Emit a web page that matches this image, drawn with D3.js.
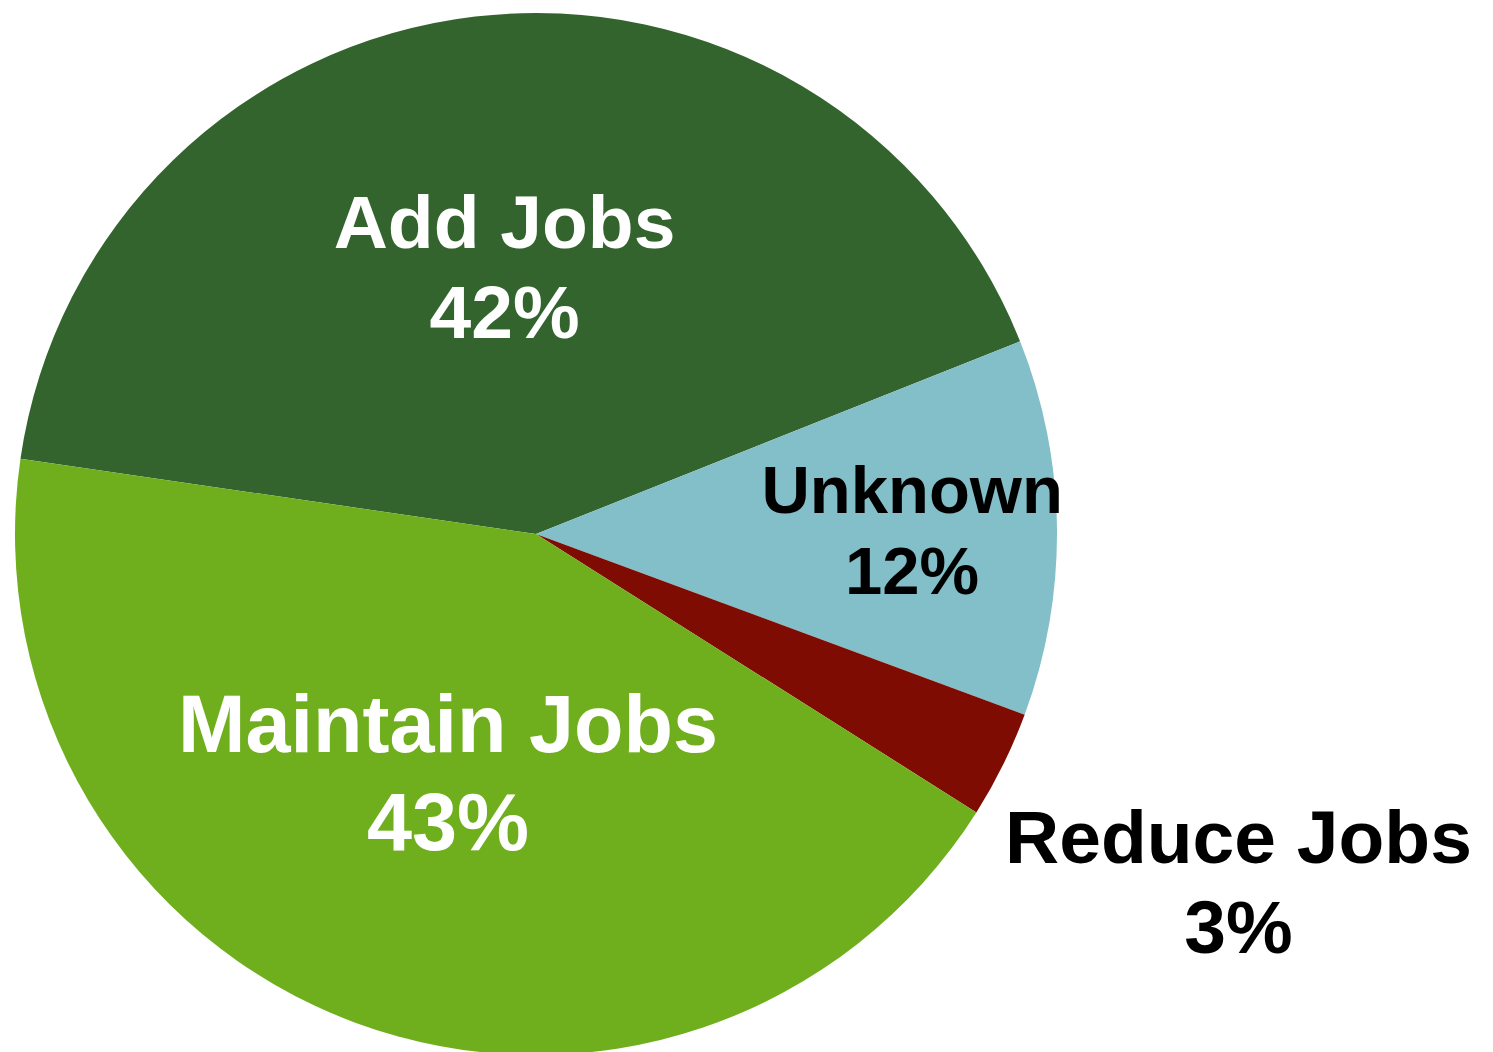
<!DOCTYPE html>
<html>
<head>
<meta charset="utf-8">
<script src="https://cdn.jsdelivr.net/npm/d3@7"></script>
<style>
  html, body { margin: 0; padding: 0; background: #fff; }
  svg { display: block; }
</style>
</head>
<body>
<svg id="chart" width="1493" height="1052"></svg>
<script>
// Data (counts inferred from slice angles; labels show rounded percentages)
const categories = ["Add Jobs", "Unknown", "Reduce Jobs", "Maintain Jobs"];
const values = [25, 7, 2, 26];

// Styling
const colors = ["#34642E", "#83BFC9", "#7F0C02", "#6FAF1E"];
const textColors = ["#ffffff", "#000000", "#000000", "#ffffff"];
const fontSizes = [75, 67, 75, 81];
const labelRadiusFactor = [0.518, 0.722, 1.504, 0.487];

const W = 1493, H = 1052;
const cx = 536, cy = 534, R = 521;
const startAngle = -81.7 * Math.PI / 180;

const svg = d3.select("#chart");
const g = svg.append("g").attr("transform", `translate(${cx},${cy})`);

const pie = d3.pie().sort(null).value(d => d.value)
  .startAngle(startAngle).endAngle(startAngle + 2 * Math.PI);
const data = categories.map((c, i) => ({ name: c, value: values[i], i }));
const arcs = pie(data);
const total = d3.sum(values);

const arc = d3.arc().innerRadius(0).outerRadius(R);

g.selectAll("path.slice").data(arcs).enter().append("path")
  .attr("class", "slice")
  .attr("d", arc)
  .attr("fill", d => colors[d.data.i]);

const fmt = v => Math.round(v / total * 100) + "%";

arcs.forEach(d => {
  const i = d.data.i;
  const lr = R * labelRadiusFactor[i];
  const c = d3.arc().innerRadius(lr).outerRadius(lr).centroid(d);
  const f = fontSizes[i];
  const b1 = c[1] - 0.242 * f;
  const b2 = c[1] + 0.958 * f;
  const t = g.append("text")
    .attr("text-anchor", "middle")
    .attr("fill", textColors[i])
    .style("font-family", "'Liberation Sans', Arial, Helvetica, sans-serif")
    .style("font-weight", "bold")
    .style("font-size", f + "px");
  t.append("tspan").attr("x", c[0]).attr("y", b1).text(d.data.name);
  t.append("tspan").attr("x", c[0]).attr("y", b2).text(fmt(d.data.value));
});
</script>
</body>
</html>
